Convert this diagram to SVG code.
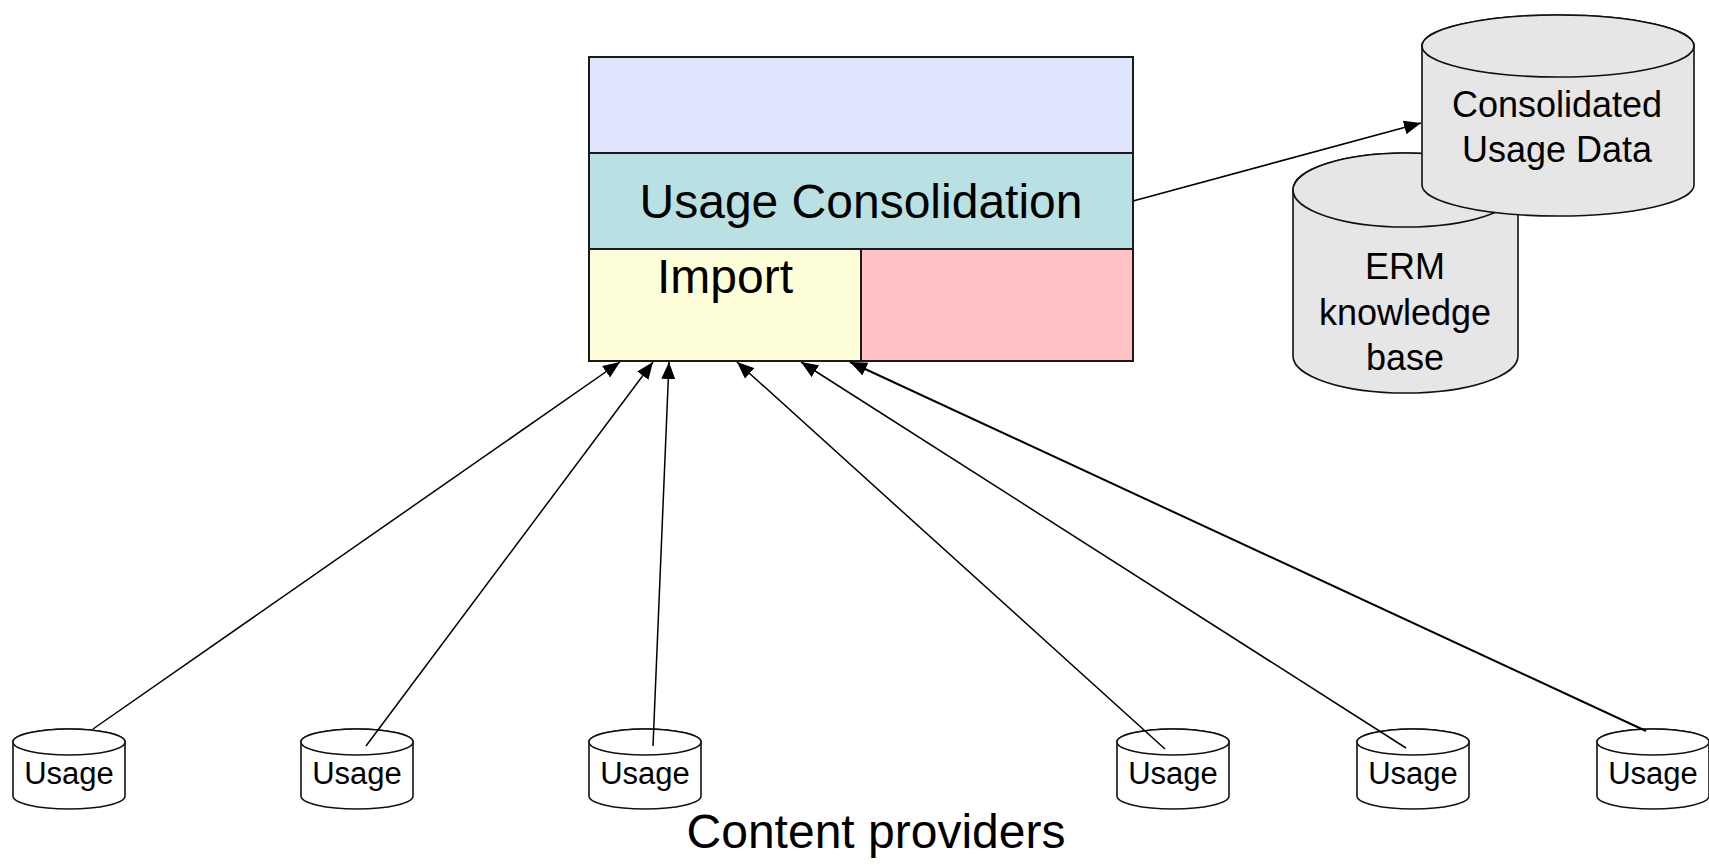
<svg xmlns="http://www.w3.org/2000/svg" width="1709" height="865" viewBox="0 0 1709 865">
<style>
text{font-family:"Liberation Sans",Arial,sans-serif;fill:#000;text-anchor:middle}
.band{stroke:#1a1a1a;stroke-width:2}
.cyl{fill:#e6e6e6;stroke:#111;stroke-width:1.6}
.ucyl{fill:#fff;stroke:#111;stroke-width:1.6}
.conn{stroke:#000;stroke-width:1.5;fill:none;marker-end:url(#ah)}
.big{font-size:48px}
.mid{font-size:36px}
.sm{font-size:31px}
</style>
<defs>
<marker id="ah" viewBox="0 0 17 14" refX="17" refY="7" markerUnits="userSpaceOnUse" markerWidth="17" markerHeight="14" orient="auto">
<path d="M0,0 L17,7 L0,14 z" fill="#000"/>
</marker>
</defs>
<g id="platform">
<rect class="band" x="589" y="57" width="544" height="96" fill="#dfe5fd"/>
<rect class="band" x="589" y="153" width="544" height="96" fill="#b9e0e3"/>
<text class="big" x="861" y="218">Usage Consolidation</text>
</g>
<g id="import">
<rect class="band" x="589" y="249" width="272" height="112" fill="#fefed9"/>
<text class="big" x="725" y="293">Import</text>
</g>
<g id="pink">
<rect class="band" x="861" y="249" width="272" height="112" fill="#ffc1c1"/>
</g>
<g id="erm">
<path class="cyl" d="M1293,190 V356 A112.5,37 0 0 0 1518,356 V190 A112.5,37 0 0 0 1293,190 Z"/>
<ellipse class="cyl" cx="1405.5" cy="190" rx="112.5" ry="37"/>
<text class="mid" x="1405" y="279">ERM</text>
<text class="mid" x="1405" y="325">knowledge</text>
<text class="mid" x="1405" y="370">base</text>
</g>
<g id="consolidated">
<path class="cyl" d="M1422,46 V185 A136,31 0 0 0 1694,185 V46 A136,31 0 0 0 1422,46 Z"/>
<ellipse class="cyl" cx="1558" cy="46" rx="136" ry="31"/>
<text class="mid" x="1557" y="117">Consolidated</text>
<text class="mid" x="1557" y="162">Usage Data</text>
</g>
<g id="usage1">
<path class="ucyl" d="M13,742 V796 A56,13 0 0 0 125,796 V742 A56,13 0 0 0 13,742 Z"/>
<ellipse class="ucyl" cx="69" cy="742" rx="56" ry="13"/>
<text class="sm" x="69" y="784">Usage</text>
</g>
<g id="usage2">
<path class="ucyl" d="M301,742 V796 A56,13 0 0 0 413,796 V742 A56,13 0 0 0 301,742 Z"/>
<ellipse class="ucyl" cx="357" cy="742" rx="56" ry="13"/>
<text class="sm" x="357" y="784">Usage</text>
</g>
<g id="usage3">
<path class="ucyl" d="M589,742 V796 A56,13 0 0 0 701,796 V742 A56,13 0 0 0 589,742 Z"/>
<ellipse class="ucyl" cx="645" cy="742" rx="56" ry="13"/>
<text class="sm" x="645" y="784">Usage</text>
</g>
<g id="usage4">
<path class="ucyl" d="M1117,742 V796 A56,13 0 0 0 1229,796 V742 A56,13 0 0 0 1117,742 Z"/>
<ellipse class="ucyl" cx="1173" cy="742" rx="56" ry="13"/>
<text class="sm" x="1173" y="784">Usage</text>
</g>
<g id="usage5">
<path class="ucyl" d="M1357,742 V796 A56,13 0 0 0 1469,796 V742 A56,13 0 0 0 1357,742 Z"/>
<ellipse class="ucyl" cx="1413" cy="742" rx="56" ry="13"/>
<text class="sm" x="1413" y="784">Usage</text>
</g>
<g id="usage6">
<path class="ucyl" d="M1597,742 V796 A56,13 0 0 0 1709,796 V742 A56,13 0 0 0 1597,742 Z"/>
<ellipse class="ucyl" cx="1653" cy="742" rx="56" ry="13"/>
<text class="sm" x="1653" y="784">Usage</text>
</g>
<g id="label">
<text class="big" x="876" y="848">Content providers</text>
</g>
<g id="connectors">
<line class="conn" x1="1133" y1="201" x2="1421" y2="123"/>
<line class="conn" x1="93" y1="729" x2="620" y2="362"/>
<line class="conn" x1="366" y1="746" x2="653" y2="362"/>
<line class="conn" x1="653" y1="746" x2="669" y2="362"/>
<line class="conn" x1="1165" y1="749" x2="737" y2="362"/>
<line class="conn" x1="1406" y1="748" x2="801" y2="362"/>
<line class="conn" x1="1646" y1="731" x2="850" y2="362" style="stroke-width:2"/>
</g>
</svg>
